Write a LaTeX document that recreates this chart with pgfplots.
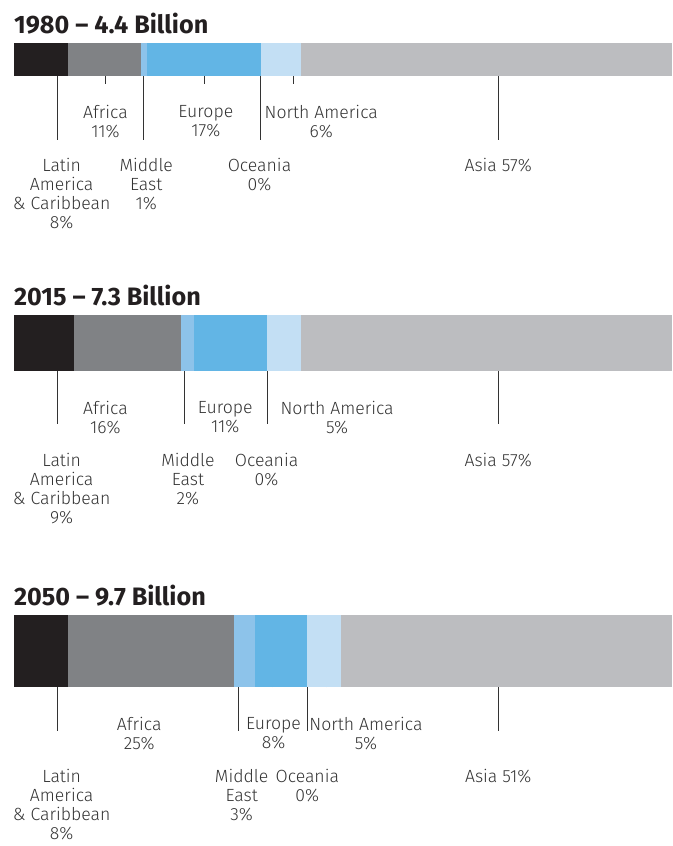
\documentclass[border=0pt]{standalone}
\usepackage{fontspec}
\setmainfont{Fira Sans}[UprightFont=* Light, BoldFont=* Bold]
\usepackage{pgfplots}
\pgfplotsset{compat=1.18}
\usetikzlibrary{calc}

\definecolor{cLatin}{HTML}{231F20}
\definecolor{cAfrica}{HTML}{808285}
\definecolor{cMideast}{HTML}{8DC3EA}
\definecolor{cEurope}{HTML}{62B5E5}
\definecolor{cOceania}{HTML}{A6D2F0}
\definecolor{cNorthAm}{HTML}{C3DFF4}
\definecolor{cAsia}{HTML}{BCBDC0}
\definecolor{ink}{HTML}{333333}

\pgfplotsset{popbar/.style={
    xbar stacked, hide axis, scale only axis, clip=false,
    width=496.5pt, xmin=0, xmax=100, ymin=-0.5, ymax=0.5,
    bar width=1, anchor=north west,
}}
\tikzset{
  leader/.style={draw=black!80, line width=0.8pt},
  lbl/.style={anchor=north, align=center, inner sep=0pt, text=ink,
    font=\fontsize{13.3}{14.25}\selectfont},
  ttl/.style={anchor=base west, inner sep=0pt, text=cLatin,
    font=\fontsize{19}{22}\bfseries\selectfont},
}

% one stacked bar: latin, africa, middle east, europe, oceania, north america, asia
\newcommand\bars[7]{%
  \addplot[fill=cLatin,draw=none] coordinates {(#1,0)};
  \addplot[fill=cAfrica,draw=none] coordinates {(#2,0)};
  \addplot[fill=cMideast,draw=none] coordinates {(#3,0)};
  \addplot[fill=cEurope,draw=none] coordinates {(#4,0)};
  \addplot[fill=cOceania,draw=none] coordinates {(#5,0)};
  \addplot[fill=cNorthAm,draw=none] coordinates {(#6,0)};
  \addplot[fill=cAsia,draw=none] coordinates {(#7,0)};
}
% leader line at #1, label centred at #2
\newcommand\nearlab[3]{%
  \draw[leader] (axis cs:#1,-0.5) -- ++(0,-18.75pt);
  \node[lbl] at ([yshift=-22.5pt]axis cs:#2,-0.5) {#3};
}
\newcommand\farlab[3]{%
  \draw[leader] (axis cs:#1,-0.5) -- ++(0,-60.75pt);
  \node[lbl] at ([yshift=-62pt]axis cs:#2,-0.5) {#3};
}

\begin{document}
\begin{tikzpicture}
\path (0,0) rectangle (507pt,-638pt);

\begin{axis}[popbar, height=24.75pt, at={(10.5pt,-32.25pt)}]
  \bars{8.16}{11.18}{0.91}{17.22}{0}{6.19}{56.34}
  \node[ttl] at ([yshift=7pt]rel axis cs:0,1) {1980 – 4.4 Billion};
  \farlab{6.65}{7.25}{Latin\\America\\\& Caribbean\\8\%}
  \nearlab{13.9}{13.9}{Africa\\11\%}
  \farlab{19.64}{20.1}{Middle\\East\\1\%}
  \nearlab{29.0}{29.15}{Europe\\17\%}
  \farlab{37.46}{37.3}{Oceania\\0\%}
  \nearlab{42.45}{46.68}{North America\\6\%}
  \farlab{73.56}{73.56}{Asia 57\%}
\end{axis}

\begin{axis}[popbar, height=42pt, at={(10.5pt,-237.75pt)}]
  \bars{9.06}{16.31}{1.96}{11.18}{0}{5.14}{56.35}
  \node[ttl] at ([yshift=7pt]rel axis cs:0,1) {2015 – 7.3 Billion};
  \farlab{6.65}{7.25}{Latin\\America\\\& Caribbean\\9\%}
  \nearlab{13.9}{13.9}{Africa\\16\%}
  \farlab{25.98}{26.43}{Middle\\East\\2\%}
  \nearlab{32.02}{32.1}{Europe\\11\%}
  \farlab{38.52}{38.37}{Oceania\\0\%}
  \nearlab{43.05}{49.09}{North America\\5\%}
  \farlab{73.56}{73.56}{Asia 57\%}
\end{axis}

\begin{axis}[popbar, height=54.75pt, at={(10.5pt,-463.5pt)}]
  \bars{8.16}{25.23}{3.17}{8.01}{0}{5.14}{50.29}
  \node[ttl] at ([yshift=7pt]rel axis cs:0,1) {2050 – 9.7 Billion};
  \farlab{6.65}{7.25}{Latin\\America\\\& Caribbean\\8\%}
  \nearlab{19.03}{19.03}{Africa\\25\%}
  \farlab{34.14}{34.59}{Middle\\East\\3\%}
  \nearlab{39.27}{39.43}{Europe\\8\%}
  \farlab{44.56}{44.56}{Oceania\\0\%}
  \nearlab{47.43}{53.47}{North America\\5\%}
  \farlab{73.56}{73.56}{Asia 51\%}
\end{axis}
\end{tikzpicture}
\end{document}
